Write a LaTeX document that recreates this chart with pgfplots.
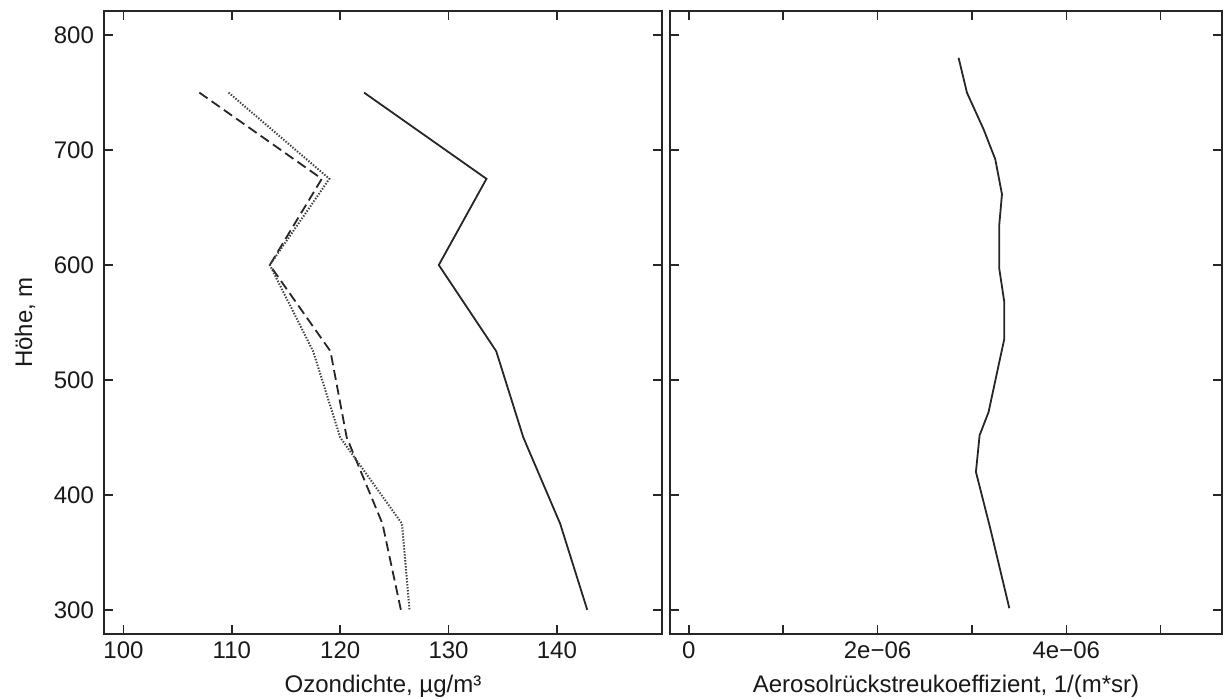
\documentclass[border=0pt]{standalone}
\usepackage{pgfplots}
\pgfplotsset{compat=1.18}
\usepackage{fontspec}
\setmainfont{Liberation Sans}
\begin{document}
\begin{tikzpicture}[x=1pt,y=1pt]
\useasboundingbox (0,0) rectangle (612,349.5);
\pgfplotsset{
  every axis/.append style={
    scale only axis,
    anchor=south west,
    height=311.5pt,
    ymin=279, ymax=821,
    ytick={300,400,500,600,700,800},
    tick align=inside,
    xtick pos=both, ytick pos=both,
    xticklabel pos=bottom, yticklabel pos=left,
    major tick length=4.5pt,
    scaled x ticks=false,
    axis line style={line width=0.9pt, black!85},
    every tick/.style={line width=0.8pt, black!85},
    tick label style={font=\fontsize{12}{14}\selectfont, text=black!90},
    label style={font=\fontsize{12}{14}\selectfont, text=black!90},
    xticklabel style={yshift=-0.5pt},
    yticklabel style={xshift=-1.5pt},
    /pgf/number format/assume math mode=true,
    clip=true,
  },
}
% left panel
\begin{axis}[
  at={(52pt,32.5pt)}, width=279pt,
  xmin=98.2, xmax=149.7,
  xtick={100,110,120,130,140},
  xlabel={Ozondichte, µg/m³},
  ylabel={Höhe, m},
  xlabel style={yshift=-1pt},
  ylabel style={yshift=2.5pt},
]
\addplot[line width=0.9pt, black!85] coordinates {
(122.2,750) (133.5,675) (129.1,600) (134.4,525) (136.9,450) (140.3,375) (142.8,300)};
\addplot[line width=0.9pt, black!85, dash pattern=on 5pt off 2.5pt] coordinates {
(107.0,750) (118.3,675) (113.5,600) (119.1,525) (120.6,450) (123.9,375) (125.6,300)};
\addplot[line width=1pt, black!75, dash pattern=on 0.7pt off 0.8pt] coordinates {
(109.7,750) (119.0,675) (113.5,600) (117.5,525) (120.0,450) (125.7,375) (126.4,300)};
\end{axis}
% right panel
\begin{axis}[
  at={(335pt,32.5pt)}, width=276pt,
  xmin=-0.2e-6, xmax=5.65e-6,
  xtick={0,1e-6,2e-6,3e-6,4e-6,5e-6},
  xticklabels={0,,2e−06,,4e−06,},
  yticklabels={},
  xlabel={Aerosolrückstreukoeffizient, 1/(m*sr)},
  xlabel style={yshift=-1pt},
]
\addplot[line width=0.9pt, black!85] coordinates {
(2.858e-6,780.3) (2.947e-6,749.9) (3.123e-6,718.1) (3.247e-6,692.0) (3.318e-6,661.6)
(3.290e-6,635.6) (3.290e-6,596.5) (3.343e-6,567.6) (3.343e-6,535.8) (3.282e-6,512.7)
(3.176e-6,472.1) (3.081e-6,451.9) (3.042e-6,420.0) (3.194e-6,370.8) (3.396e-6,301.4)};
\end{axis}
\end{tikzpicture}
\end{document}
